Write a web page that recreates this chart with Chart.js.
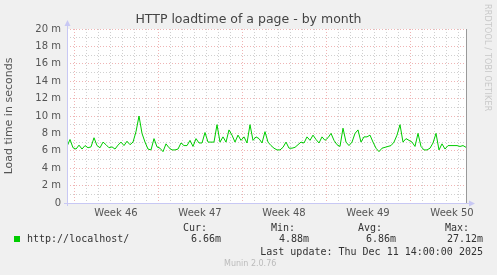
<!DOCTYPE html>
<html>
<head>
<meta charset="utf-8">
<script src="https://cdn.jsdelivr.net/npm/chart.js@4/dist/chart.umd.min.js"></script>
<style>
  body { margin: 0; background: #f0f0f0; }
  #wrap { position: relative; width: 497px; height: 275px; overflow: hidden; }
  #c { position: absolute; left: 0; top: 0; }
  #title { position: absolute; left: 0; width: 497px; top: 11px; text-align: center; font-family: "DejaVu Sans", sans-serif; font-size: 12.5px; line-height: 16px; color: #444; }
  .t { position: absolute; font-family: "DejaVu Sans Mono", monospace; font-size: 10px; line-height: 12px; color: #333; white-space: pre; }
  .r { text-align: right; }
  #sq { position: absolute; left: 14px; top: 236px; width: 6px; height: 6px; background: #00cc00; }
  #munin { position: absolute; left: 224px; top: 259px; font-family: "DejaVu Sans", sans-serif; font-size: 8px; line-height: 10px; color: #bbb; }
  #rrd { position: absolute; left: 483px; top: 4px; font-family: "DejaVu Sans", sans-serif; font-size: 8px; color: #c8c8c8; writing-mode: vertical-rl; letter-spacing: 0.2px; }
</style>
</head>
<body>
<div id="wrap">
  <canvas id="c" width="497" height="275"></canvas>
  <div id="title">HTTP loadtime of a page - by month</div>
  <div id="sq"></div>
  <div class="t" style="left:27px;top:233px">http://localhost/</div>
  <div class="t r" style="right:290px;top:222px">Cur:</div>
  <div class="t r" style="right:202px;top:222px">Min:</div>
  <div class="t r" style="right:115px;top:222px">Avg:</div>
  <div class="t r" style="right:28px;top:222px">Max:</div>
  <div class="t r" style="right:276px;top:233px">6.66m</div>
  <div class="t r" style="right:188px;top:233px">4.88m</div>
  <div class="t r" style="right:101px;top:233px">6.86m</div>
  <div class="t r" style="right:14px;top:233px">27.12m</div>
  <div class="t r" style="right:14px;top:246px">Last update: Thu Dec 11 14:00:00 2025</div>
  <div id="munin">Munin 2.0.76</div>
  <div id="rrd">RRDTOOL / TOBI OETIKER</div>
</div>
<script>
// hours relative to Monday of week 46 (Nov 10 00:00), one sample every 6 h
const startHour = -14;
const stepHours = 6;
const endHour = 784;
const weekNumbers = [46, 47, 48, 49, 50];

// load time in milliseconds ("m" = milli)
const loadTime = [
  6.5, 7.3, 6.35, 6.2, 6.65, 6.2, 6.6, 6.35, 6.45, 7.5,
  6.6, 6.35, 7.0, 6.7, 6.35, 6.45, 6.2, 6.65, 7.0, 6.6,
  7.1, 6.7, 7.0, 8.2, 10.0, 8.0, 7.0, 6.2, 6.1, 7.4,
  6.45, 6.3, 5.9, 6.8, 6.35, 6.1, 6.1, 6.2, 6.9, 6.6,
  6.6, 7.2, 6.5, 7.4, 6.9, 6.9, 8.1, 7.0, 7.0, 7.0,
  9.0, 7.0, 7.6, 7.0, 8.4, 7.8, 7.0, 7.8, 7.2, 7.6,
  6.9, 9.0, 7.2, 7.6, 7.4, 6.9, 8.2, 7.0, 6.6, 6.3,
  6.1, 6.1, 6.4, 7.0, 6.3, 6.3, 6.4, 6.7, 7.0, 6.9,
  7.6, 7.2, 7.8, 7.3, 6.9, 7.6, 7.2, 7.5, 8.0, 7.2,
  6.7, 6.5, 8.6, 7.0, 6.6, 7.0, 8.0, 8.4, 7.0, 7.6,
  7.6, 7.8, 7.0, 6.3, 5.9, 6.3, 6.4, 6.5, 6.6, 7.0,
  7.8, 9.0, 7.0, 7.4, 7.2, 7.0, 6.5, 8.0, 6.5, 6.1,
  6.1, 6.3, 6.9, 8.0, 6.1, 6.8, 6.2, 6.6, 6.6, 6.6,
  6.6, 6.5, 6.6, 6.4
];

const points = loadTime.map((v, i) => ({ x: startHour + i * stepHours, y: v }));

const RED = 'rgba(230,140,140,0.65)';
const GRAY = 'rgba(170,170,170,0.55)';

const frame = {
  id: 'frame',
  beforeDraw(chart) {
    const { ctx, chartArea: a } = chart;
    ctx.save();
    ctx.fillStyle = '#ffffff';
    ctx.fillRect(a.left, a.top, a.right - a.left, a.bottom - a.top);
    ctx.restore();
  },
  afterDraw(chart) {
    const { ctx, chartArea: a } = chart;
    ctx.save();
    // right border
    ctx.strokeStyle = '#999';
    ctx.lineWidth = 1;
    ctx.beginPath();
    ctx.moveTo(a.right + 0.5, a.top);
    ctx.lineTo(a.right + 0.5, a.bottom);
    ctx.stroke();
    // axes in pale blue with arrows
    ctx.strokeStyle = '#c8c8f4';
    ctx.fillStyle = '#c8c8f4';
    ctx.beginPath();
    ctx.moveTo(a.left + 0.5, a.bottom + 3);
    ctx.lineTo(a.left + 0.5, a.top - 4);
    ctx.moveTo(a.left - 3, a.bottom + 0.5);
    ctx.lineTo(a.right + 4, a.bottom + 0.5);
    ctx.stroke();
    ctx.beginPath();
    ctx.moveTo(a.left - 2.5, a.top - 3);
    ctx.lineTo(a.left + 3.5, a.top - 3);
    ctx.lineTo(a.left + 0.5, a.top - 9);
    ctx.closePath();
    ctx.fill();
    ctx.beginPath();
    ctx.moveTo(a.right + 3, a.bottom - 2.5);
    ctx.lineTo(a.right + 3, a.bottom + 3.5);
    ctx.lineTo(a.right + 9, a.bottom + 0.5);
    ctx.closePath();
    ctx.fill();
    ctx.restore();
  }
};

new Chart(document.getElementById('c').getContext('2d'), {
  type: 'line',
  data: {
    datasets: [{
      data: points,
      borderColor: '#00cc00',
      borderWidth: 1,
      pointRadius: 0,
      tension: 0,
      fill: false
    }]
  },
  options: {
    responsive: false,
    animation: false,
    devicePixelRatio: 1,
    layout: { padding: { left: 0, right: 31, top: 29, bottom: 0 } },
    plugins: {
      legend: { display: false },
      tooltip: { enabled: false },
      title: { display: false }
    },
    scales: {
      x: {
        type: 'linear',
        min: startHour,
        max: endHour,
        afterBuildTicks: axis => {
          const t = [];
          for (let v = -12; v <= endHour; v += 12) t.push({ value: v });
          axis.ticks = t;
        },
        afterFit: s => { s.height = 72; },
        grid: {
          drawTicks: false,
          color: c => {
            const v = c.tick ? c.tick.value : 0;
            if (v % 168 === 0) return RED;
            if (v % 24 === 0) return GRAY;
            return 'rgba(0,0,0,0)';
          }
        },
        border: { display: false, dash: [1, 2] },
        ticks: {
          autoSkip: false,
          maxRotation: 0,
          padding: 4,
          color: '#555',
          font: { family: 'DejaVu Sans', size: 10 },
          callback: v => {
            const k = (v - 84) / 168;
            return Number.isInteger(k) && weekNumbers[k] ? 'Week ' + weekNumbers[k] : '';
          }
        }
      },
      y: {
        min: 0,
        max: 20,
        afterFit: s => { s.width = 67; },
        grid: {
          drawTicks: false,
          color: c => (c.tick && c.tick.value % 2 === 0 ? RED : GRAY)
        },
        border: { display: false, dash: [1, 2] },
        ticks: {
          stepSize: 1,
          autoSkip: false,
          padding: 6,
          color: '#555',
          font: { family: 'DejaVu Sans', size: 10 },
          callback: v => (v % 2 ? '' : (v === 0 ? '0' : v + ' m'))
        },
        title: {
          display: true,
          text: 'Load time in seconds',
          color: '#555',
          font: { family: 'DejaVu Sans', size: 11, lineHeight: 1.2 },
          padding: { top: 3, bottom: 0 }
        }
      }
    }
  },
  plugins: [frame]
});
</script>
</body>
</html>
